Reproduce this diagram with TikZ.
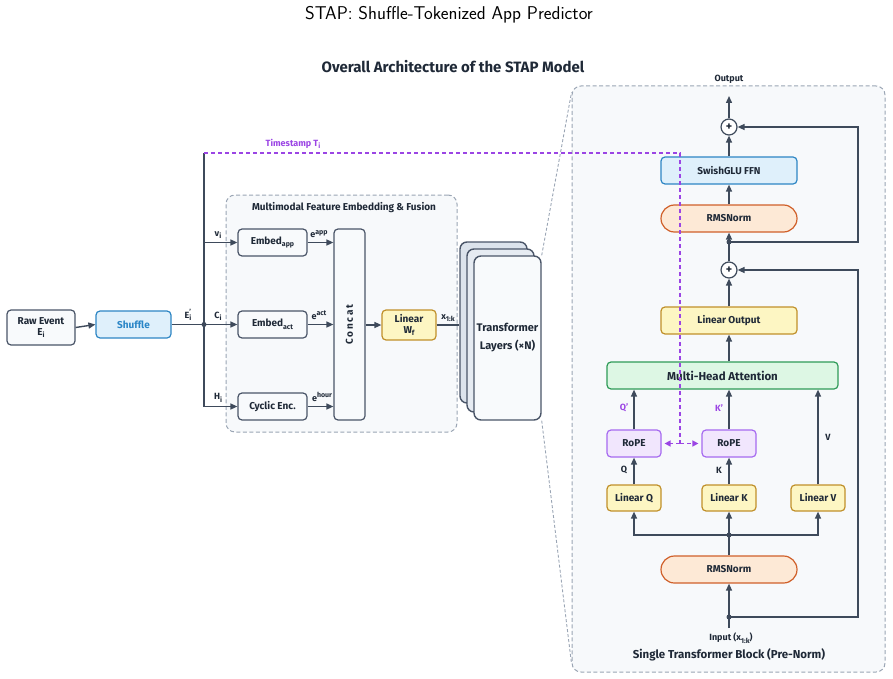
\documentclass[tikz,border=0pt]{standalone}
\usepackage{fontspec}
\setmainfont{Fira Sans}
\usetikzlibrary{arrows.meta,calc}
\definecolor{ink}{HTML}{1F2937}
\definecolor{edge}{HTML}{3E4A5B}
\definecolor{boxline}{HTML}{4A5568}
\definecolor{panel}{HTML}{F7F9FB}
\definecolor{panelline}{HTML}{9AA5B4}
\definecolor{boxfill}{HTML}{F8FAFC}
\definecolor{blueF}{HTML}{DFF0FB}
\definecolor{blueL}{HTML}{2D86C4}
\definecolor{blueT}{HTML}{2A86C7}
\definecolor{yelF}{HTML}{FDF6C3}
\definecolor{yelL}{HTML}{C0902A}
\definecolor{orF}{HTML}{FDE9D6}
\definecolor{orL}{HTML}{D0602A}
\definecolor{grF}{HTML}{DDF7E4}
\definecolor{grL}{HTML}{2F9B58}
\definecolor{puF}{HTML}{F1E6FD}
\definecolor{puL}{HTML}{A66AF0}
\definecolor{puT}{HTML}{9B45E4}
\definecolor{stackA}{HTML}{DCE3EC}
\definecolor{stackB}{HTML}{E6EBF2}
\newcommand\fntBox{\fontsize{10}{12}\selectfont\bfseries}
\newcommand\fntSm{\fontsize{9}{10}\selectfont\bfseries}
\newcommand\sbs[1]{\raisebox{-0.5ex}{\fontsize{7}{7}\selectfont #1}}
\newcommand\sps[1]{\raisebox{0.75ex}{\fontsize{7}{7}\selectfont #1}}
\tikzset{
  conn/.style={draw=edge, line width=1.4pt},
  arr/.style={conn, -{Triangle[length=7pt,width=6pt]}},
  box/.style={draw=boxline, line width=1.2pt, rounded corners=4pt, fill=boxfill, inner sep=0pt, align=center, font=\fntBox, text=ink},
  bluebox/.style={box, draw=blueL, fill=blueF, text=blueT},
  ffnbox/.style={box, draw=blueL, fill=blueF},
  yelbox/.style={box, draw=yelL, fill=yelF},
  orbox/.style={box, draw=orL, fill=orF, rounded corners=13.5pt},
  grbox/.style={box, draw=grL, fill=grF, font=\fontsize{11.5}{13}\selectfont\bfseries},
  pubox/.style={box, draw=puL, fill=puF},
  panelbox/.style={draw=panelline, line width=1pt, dashed, dash pattern=on 4pt off 2.5pt, rounded corners=9pt, fill=panel, inner sep=0pt},
  stackbox/.style={draw=boxline, line width=1.4pt, rounded corners=7pt, inner sep=0pt, minimum width=67, align=center, text=ink},
  lab/.style={font=\fntSm, text=ink, inner sep=1pt},
  plab/.style={font=\fntSm, text=puT, inner sep=1pt},
  plus/.style={circle, draw=edge, line width=1.2pt, fill=white, minimum size=16, inner sep=0pt, font=\fontsize{12}{12}\selectfont\bfseries, text=ink},
  tsline/.style={draw=puT, line width=1.4pt, dash pattern=on 4pt off 3pt},
  tsarr/.style={tsline, -{Triangle[length=6pt,width=6pt]}, shorten >=3pt},
  zoomline/.style={draw=panelline, line width=0.9pt, dash pattern=on 3pt off 2pt},
  dot/.style={circle, fill=edge, inner sep=0pt, minimum size=5}
}
\begin{document}
\begin{tikzpicture}[x=1pt,y=-1pt]
\useasboundingbox (0,0) rectangle (893,679);
% titles
\node[font=\sffamily\fontsize{18.5}{22}\selectfont, text=black] (title) at (449,15) {STAP: Shuffle-Tokenized App Predictor};
\node[font=\fontsize{15}{18}\selectfont\bfseries, text=ink] (sub) at (453,67) {Overall Architecture of the STAP Model};

% containers
\node[panelbox, minimum width=231, minimum height=237] (mm) at (341.5,313.5) {};
\node[font=\fontsize{10}{12}\selectfont\bfseries, text=ink] (mmt) at (344,208) {Multimodal Feature Embedding \& Fusion};
\node[panelbox, minimum width=313, minimum height=586] (blk) at (728.5,379) {};

% left nodes
\node[box, minimum width=68, minimum height=35, font=\fontsize{10}{11}\selectfont\bfseries] (raw) at (41,327.5) {Raw Event\\E\sbs{i}};
\node[bluebox, minimum width=75, minimum height=27] (shuf) at (133.5,324.5) {Shuffle};
\node[box, minimum width=69, minimum height=27] (eapp) at (272.5,242.5) {Embed\sbs{app}};
\node[box, minimum width=69, minimum height=27] (eact) at (272.5,324.5) {Embed\sbs{act}};
\node[box, minimum width=69, minimum height=27] (cyc) at (272.5,406.5) {Cyclic Enc.};
\node[box, minimum width=31, minimum height=191] (cat) at (349.5,324.5) {};
\node[rotate=90, font=\fntBox\addfontfeature{LetterSpace=18}, text=ink] (catt) at (cat.center) {Concat};
\node[yelbox, minimum width=54, minimum height=30, font=\fontsize{10}{11}\selectfont\bfseries] (lwf) at (409,325) {Linear\\W\sbs{f}};

% stack
\node[stackbox, fill=stackA, minimum height=161] (st1) at (493.5,322.5) {};
\node[stackbox, fill=stackB, minimum height=163] (st2) at (500.5,330.5) {};
\node[stackbox, fill=boxfill, minimum height=164, font=\fontsize{11}{18}\selectfont\bfseries] (st3) at (507.5,338) {Transformer\\Layers (×N)};

% zoom lines
\draw[zoomline] (st3.north east) -- ($(blk.north west)+(0,7)$);
\draw[zoomline] (st3.south east) -- ($(blk.south west)+(0,-9)$);

% left connectors
\coordinate (j0) at (204,324.5);
\coordinate (jv) at (204,242.5);
\coordinate (jh) at (204,406.5);
\coordinate (ts0) at (204,153);
\draw[arr] (raw.east) -- (shuf.west);
\draw[conn] (shuf.east) -- (j0);
\draw[conn] (ts0) -- (jh);
\draw[arr] (jv) -- (eapp.west);
\draw[arr] (j0) -- (eact.west);
\draw[arr] (jh) -- (cyc.west);
\node[dot] (j0d) at (j0) {};
\node[lab] (lE) at (188,315) {E\rlap{\sps{'}}\sbs{i}};
\node[lab] (lv) at (218,235) {v\sbs{i}};
\node[lab] (lc) at (218,316) {C\sbs{i}};
\node[lab] (lh) at (218,398) {H\sbs{i}};
\draw[arr] (eapp.east) -- (eapp.east -| cat.west);
\draw[arr] (eact.east) -- (eact.east -| cat.west);
\draw[arr] (cyc.east) -- (cyc.east -| cat.west);
\node[lab] (le1) at (319,234) {e\sps{app}};
\node[lab] (le2) at (319,315) {e\sps{act}};
\node[lab] (le3) at (322,397) {e\sps{hour}};
\draw[arr] (cat.east |- lwf.west) -- (lwf.west);
\draw[conn] (lwf.east) -- (lwf.east -| st1.west);
\node[lab] (lx) at (448,318) {x\sbs{1:k}};

% right block
\node[ffnbox, minimum width=136, minimum height=27] (ffn) at (729,170.5) {SwishGLU FFN};
\node[orbox, minimum width=136, minimum height=27] (rms1) at (729,218.5) {RMSNorm};
\node[plus] (p1) at (729,127) {+};
\node[plus] (p2) at (729,270) {+};
\node[yelbox, minimum width=136, minimum height=27] (lout) at (729,320.5) {Linear Output};
\node[grbox, minimum width=231, minimum height=27] (mha) at (722.5,375.5) {Multi-Head Attention};
\node[pubox, minimum width=54, minimum height=27] (rq) at (634,443.5) {RoPE};
\node[pubox, minimum width=54, minimum height=27] (rk) at (729,443.5) {RoPE};
\node[yelbox, minimum width=54, minimum height=26] (lq) at (634,498) {Linear Q};
\node[yelbox, minimum width=54, minimum height=26] (lk) at (729,498) {Linear K};
\node[yelbox, minimum width=54, minimum height=26] (lv2) at (818,498) {Linear V};
\node[orbox, minimum width=136, minimum height=27] (rms2) at (729,569.5) {RMSNorm};

\coordinate (inp) at (729,628);
\coordinate (jin) at (729,617);
\coordinate (jsp) at (729,535);
\coordinate (jres) at (729,242);
\coordinate (r2) at (858,617);
\coordinate (r1) at (858,242);
\coordinate (outp) at (729,96);

\draw[arr] (inp) -- (rms2.south);
\draw[arr] (jin) -- (r2) |- (p2.east);
\node[dot] (jind) at (jin) {};
\draw[conn] (rms2.north) -- (jsp);
\draw[arr] (jsp) -| (lq.south);
\draw[arr] (jsp) -| (lv2.south);
\draw[arr] (jsp) -- (lk.south);
\node[dot] (jspd) at (jsp) {};
\draw[arr] (lq.north) -- (rq.south);
\draw[arr] (lk.north) -- (rk.south);
\draw[arr] (rq.north) -- (rq.north |- mha.south);
\draw[arr] (rk.north) -- (rk.north |- mha.south);
\draw[arr] (lv2.north) -- (lv2.north |- mha.south);
\node[lab] (lQ) at (624,470) {Q};
\node[lab] (lK) at (719,470) {K};
\node[lab] (lV) at (828,437) {V};
\node[plab] (lQp) at (624,408) {Q'};
\node[plab] (lKp) at (719,408) {K'};
\draw[arr] (lout.south |- mha.north) -- (lout.south);
\draw[arr] (lout.north) -- (p2.south);
\draw[conn] (p2.north) -- (jres);
\draw[arr] (jres) -- (rms1.south);
\draw[arr] (jres) -- (r1) |- (p1.east);
\node[dot] (jresd) at (jres) {};
\draw[arr] (rms1.north) -- (ffn.south);
\draw[arr] (ffn.north) -- (p1.south);
\draw[arr] (p1.north) -- (outp);
\node[lab] (lout2) at (729,79) {Output};
\node[lab] (linp) at (731,638) {Input (x\sbs{1:k})};
\node[font=\fontsize{11.5}{13}\selectfont\bfseries, text=ink] (blkt) at (729,655) {Single Transformer Block (Pre-Norm)};

% timestamp
\coordinate (tsc) at (680,153);
\coordinate (tsd) at (680,443.5);
\draw[tsline] (ts0) -- (tsc) -- (tsd);
\draw[tsarr] (tsd) -- (rq.east);
\draw[tsarr] (tsd) -- (rk.west);
\node[plab] (tsl) at (293,144) {Timestamp T\sbs{i}};
\end{tikzpicture}
\end{document}
